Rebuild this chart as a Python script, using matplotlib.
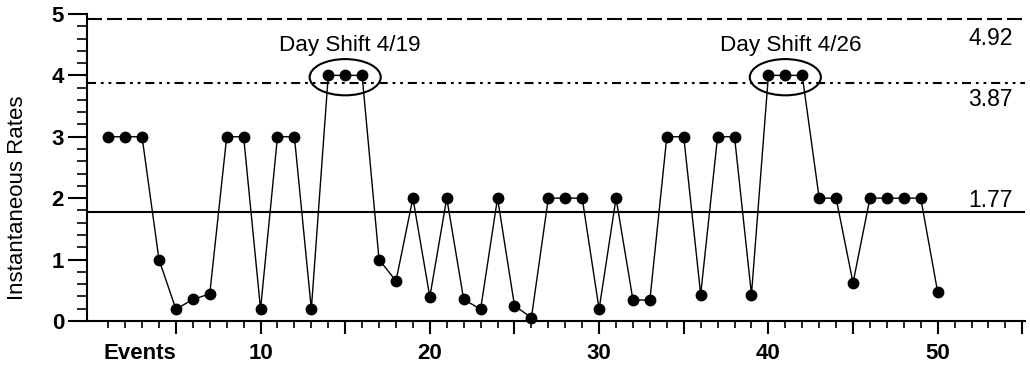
import matplotlib
matplotlib.use("Agg")
import matplotlib.pyplot as plt
from matplotlib.patches import Ellipse
from matplotlib.ticker import MultipleLocator, FixedLocator
import matplotlib.transforms as mtransforms

plt.rcParams['font.family'] = ['Liberation Sans', 'DejaVu Sans']
plt.rcParams['lines.scale_dashes'] = False

events = list(range(1, 51))
rates = [3, 3, 3, 1, 0.19, 0.35, 0.44, 3, 3, 0.19,
         3, 3, 0.19, 4, 4, 4, 1, 0.65, 2, 0.39,
         2, 0.35, 0.19, 2, 0.25, 0.05, 2, 2, 2, 0.19,
         2, 0.34, 0.34, 3, 3, 0.43, 3, 3, 0.43, 4,
         4, 4, 2, 2, 0.62, 2, 2, 2, 2, 0.47]

ucl = 4.92
warn = 3.87
mean = 1.77
x_tick_labels = ['10', '20', '30', '40', '50']
x_tick_vals = [10, 20, 30, 40, 50]
annot_texts = ['Day Shift 4/19', 'Day Shift 4/26']
annot_centers = [15, 41]

fig = plt.figure(figsize=(10.3, 3.68), dpi=100)
ax = fig.add_axes([0.0845, 0.128, 0.9105, 0.834])
ax.set_xlim(-0.25, 55.15)
ax.set_ylim(0, 5)

ax.plot(events, rates, color='black', lw=1.0, marker='o', ms=7.5,
        mfc='black', mec='black', clip_on=False, zorder=5)

ax.axhline(ucl, color='black', lw=1.5, dashes=(10.8, 3.6))
ax.axhline(warn, color='black', lw=1.5, dashes=(6.5, 3.5, 2, 3.5, 2, 3.5))
ax.axhline(mean, color='black', lw=1.5)

for c in annot_centers:
    ax.add_patch(Ellipse((c, 3.97), 4.2, 0.59, fill=False, ec='black', lw=1.5, zorder=6))

for t, c in zip(annot_texts, annot_centers):
    ax.text(c + 0.3, 4.49, t, ha='center', va='center', fontsize=16.2)

ax.text(54.45, 4.6, f'{ucl:.2f}', ha='right', va='center', fontsize=16.5)
ax.text(54.45, 3.6, f'{warn:.2f}', ha='right', va='center', fontsize=16.5)
ax.text(54.45, 1.96, f'{mean:.2f}', ha='right', va='center', fontsize=16.5)

for s in ['top', 'right']:
    ax.spines[s].set_visible(False)
for s in ['left', 'bottom']:
    ax.spines[s].set_linewidth(1.5)

major_x = [5, 10, 15, 20, 25, 30, 35, 40, 45, 50, 55]
ax.xaxis.set_major_locator(FixedLocator(major_x))
ax.xaxis.set_minor_locator(FixedLocator([i for i in range(1, 55) if i % 5 != 0]))
lab_map = dict(zip(x_tick_vals, x_tick_labels))
ax.set_xticklabels([lab_map.get(v, '') for v in major_x], fontweight='bold')
ax.tick_params(axis='x', which='major', length=9, width=1.5, pad=7, labelsize=16, direction='out')
ax.tick_params(axis='x', which='minor', length=5, width=1.2, direction='out')

ax.yaxis.set_major_locator(MultipleLocator(1))
ax.yaxis.set_minor_locator(MultipleLocator(0.2))
ax.tick_params(axis='y', which='major', length=13.5, width=1.5, pad=3, labelsize=16, direction='out')
ax.tick_params(axis='y', which='minor', length=7, width=1.2, direction='out')
for lbl in ax.get_yticklabels():
    lbl.set_fontweight('bold')

trans = mtransforms.blended_transform_factory(ax.transData, ax.transAxes)
ax.text(2.9, 0.0, 'Events', ha='center', va='top', fontsize=16, fontweight='bold',
        transform=trans + mtransforms.ScaledTranslation(0, -(9 + 7) / 72, fig.dpi_scale_trans))

fig.text(0.017, 1 - 198 / 368, 'Instantaneous Rates', rotation=90, ha='center', va='center', fontsize=16)

fig.savefig('out.png', dpi=100)
